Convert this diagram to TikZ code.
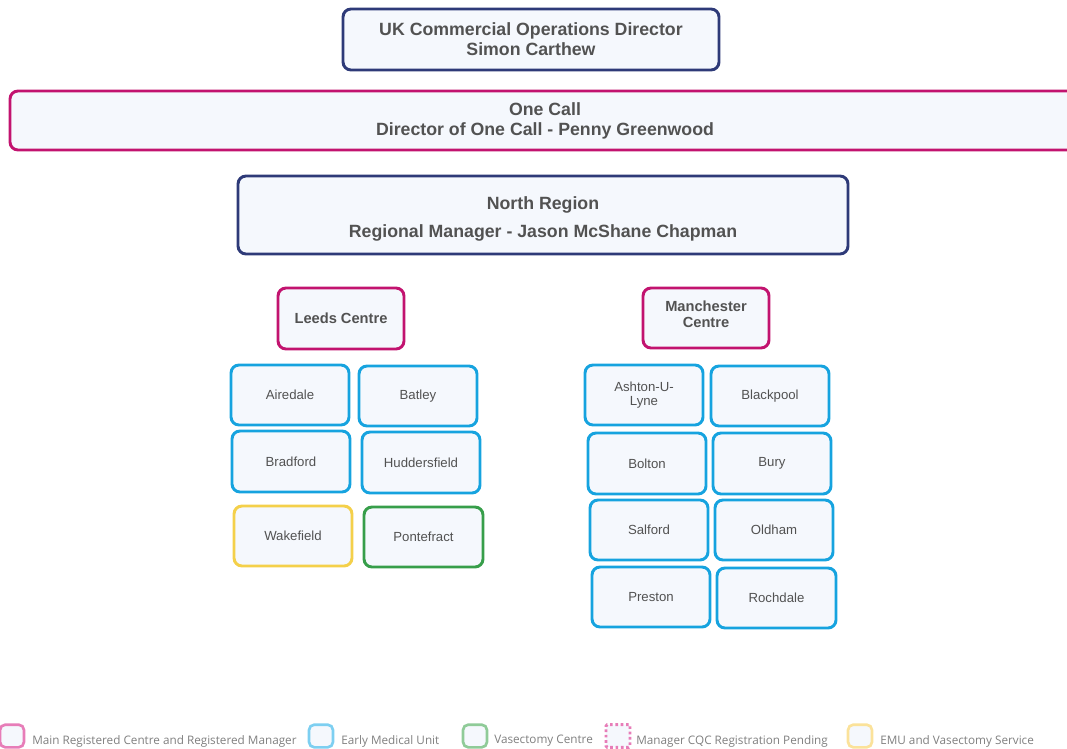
\documentclass[tikz,border=0pt]{standalone}
\usepackage{fontspec}
\setmainfont{Liberation Sans}
\newfontfamily\legfont{Open Sans}
\definecolor{navy}{HTML}{2E3A78}
\definecolor{magen}{HTML}{C2136F}
\definecolor{emu}{HTML}{16A3DF}
\definecolor{yel}{HTML}{F4D04A}
\definecolor{grn}{HTML}{379E4A}
\definecolor{boxfill}{HTML}{F5F8FD}
\definecolor{txt}{HTML}{525252}
\definecolor{lpink}{HTML}{E77DB8}
\definecolor{lblue}{HTML}{7DCFF1}
\definecolor{lgreen}{HTML}{8FCB98}
\definecolor{lyel}{HTML}{FBE29A}
\definecolor{ltxt}{HTML}{7F7F7F}
\newcommand\bx[7]{\node[#6, minimum width={(#4-#2)*0.75pt}, minimum height={(#5-#3)*0.75pt}] (#1) at ({(#2+#4)/2},{(#3+#5)/2}) {#7};}
\begin{document}
\begin{tikzpicture}[x=0.75pt,y=-0.75pt,
  base/.style={draw, rounded corners=6pt, fill=boxfill, line width=2.2pt, inner sep=0pt, align=center, text=txt},
  topfont/.style={font=\bfseries\fontsize{13.3}{15}\selectfont},
  centrefont/.style={font=\bfseries\fontsize{11}{12}\selectfont},
  topbox/.style={base, draw=navy, topfont},
  callbox/.style={base, draw=magen, topfont},
  centrebox/.style={base, draw=magen, centrefont},
  emubox/.style={base, draw=emu, font=\fontsize{9.9}{10.5}\selectfont},
  yelbox/.style={base, draw=yel, font=\fontsize{9.9}{10.5}\selectfont},
  grnbox/.style={base, draw=grn, font=\fontsize{9.9}{10.5}\selectfont},
  legbox/.style={draw, rounded corners=4pt, fill=boxfill, line width=2pt, inner sep=0pt, minimum width=18pt, minimum height=17pt},
  legtext/.style={anchor=west, inner sep=0pt, text=ltxt, font=\legfont\fontsize{8.8}{10}\selectfont}]
\useasboundingbox (0,0) rectangle (1067,749);
\bx{ukdir}{343}{9}{719}{70}{topbox}{UK Commercial Operations Director\\Simon Carthew}
\bx{onecall}{10}{91}{1080}{150}{callbox}{One Call\\Director of One Call - Penny Greenwood}
\bx{north}{238}{176}{848}{254}{topbox, label={[topfont, text=txt, align=center, inner sep=0pt, yshift=-3pt]center:{North Region\\[5.5pt]Regional Manager - Jason McShane Chapman}}}{}
\bx{leeds}{278}{288}{404}{349}{centrebox}{Leeds Centre}
\bx{manc}{643}{288}{769}{348}{centrebox, label={[centrefont, text=txt, align=center, inner sep=0pt, yshift=3pt]center:{Manchester\\Centre}}}{}
\bx{airedale}{231}{365}{349}{425}{emubox}{Airedale}
\bx{batley}{359}{366}{477}{426}{emubox}{Batley}
\bx{bradford}{232}{431}{350}{492}{emubox}{Bradford}
\bx{hudd}{362}{432}{480}{493}{emubox}{Huddersfield}
\bx{wakefield}{234}{506}{352}{566}{yelbox}{Wakefield}
\bx{pontefract}{364}{507}{483}{567}{grnbox}{Pontefract}
\bx{ashton}{585}{365}{703}{425}{emubox}{Ashton-U-\\Lyne}
\bx{blackpool}{711}{366}{829}{426}{emubox}{Blackpool}
\bx{bolton}{588}{433}{706}{494}{emubox}{Bolton}
\bx{bury}{713}{433}{831}{494}{emubox}{Bury}
\bx{salford}{590}{500}{708}{560}{emubox}{Salford}
\bx{oldham}{715}{500}{833}{560}{emubox}{Oldham}
\bx{preston}{592}{567}{710}{627}{emubox}{Preston}
\bx{rochdale}{717}{568}{836}{628}{emubox}{Rochdale}
% legend
\node[legbox, draw=lpink] (l1) at (12,736) {};
\node[legtext] (t1) at (32,741) {Main Registered Centre and Registered Manager};
\node[legbox, draw=lblue] (l2) at (321,736) {};
\node[legtext] (t2) at (341,741) {Early Medical Unit};
\node[legbox, draw=lgreen] (l3) at (475,736) {};
\node[legtext] (t3) at (494,741) {Vasectomy Centre};
\node[legbox, draw=lpink, dotted, line width=2.2pt, rounded corners=1pt] (l4) at (618,736) {};
\node[legtext] (t4) at (636,741) {Manager CQC Registration Pending};
\node[legbox, draw=lyel] (l5) at (860,736) {};
\node[legtext] (t5) at (880,741) {EMU and Vasectomy Service};
\end{tikzpicture}
\end{document}
